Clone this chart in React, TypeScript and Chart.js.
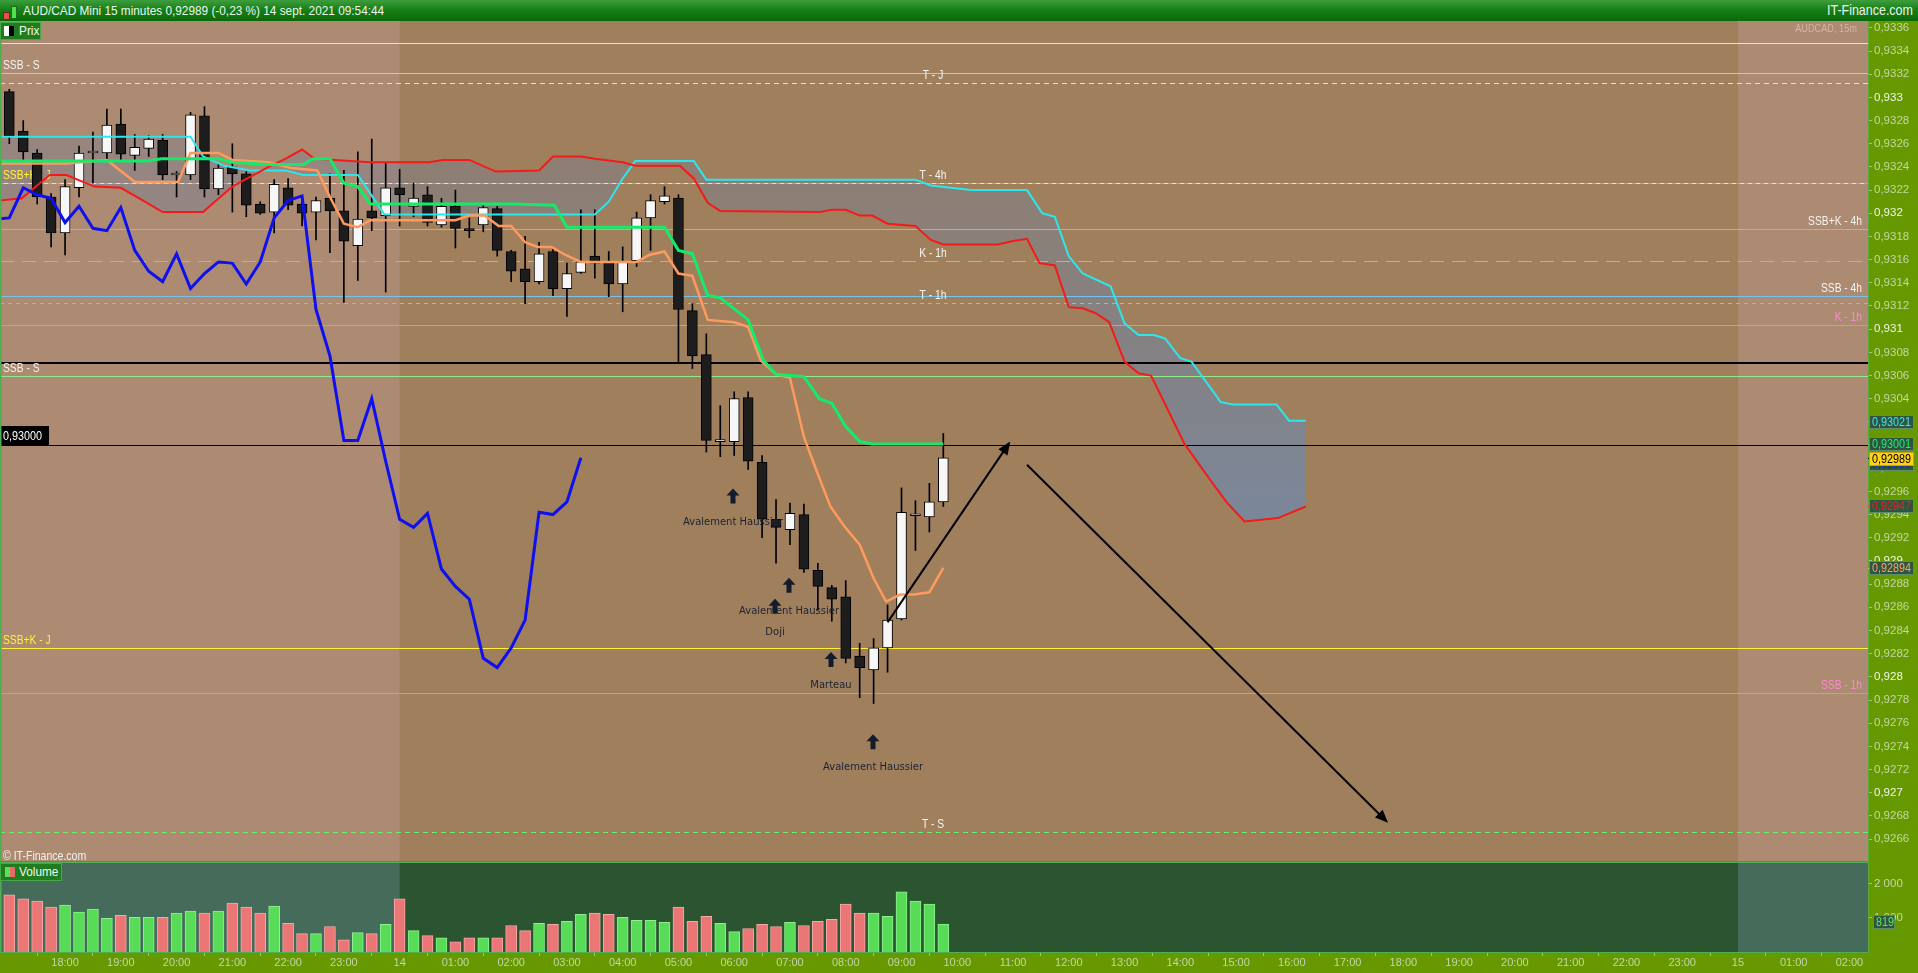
import React, { useEffect, useRef } from 'react';
import { Chart, registerables } from 'chart.js';

Chart.register(...registerables);

const SANS = "'Liberation Sans', Arial, sans-serif";
const SIGN_FONT = "'DejaVu Sans', sans-serif";
const NARROW_SCALE = 0.8;

// ---------------- DATA ----------------
// 15-minute candles, index 0 = 13 sept 17:00, last = 14 sept 09:45
const opens = [0.93305, 0.93271, 0.93252, 0.93214, 0.93183, 0.93222, 0.93252, 0.93252, 0.93277, 0.93250,
  0.93256, 0.93263, 0.93233, 0.93233, 0.93284, 0.93221, 0.93240, 0.93234, 0.93208, 0.93201,
  0.93222, 0.93208, 0.93201, 0.93213, 0.93202, 0.93172, 0.93202, 0.93198, 0.93222, 0.93206,
  0.93216, 0.93190, 0.93206, 0.93186, 0.93190, 0.93204, 0.93167, 0.93152, 0.93141, 0.93167,
  0.93135, 0.93149, 0.93163, 0.93158, 0.93139, 0.93159, 0.93196, 0.93210, 0.93213, 0.93116,
  0.93078, 0.93003, 0.93003, 0.93041, 0.92985, 0.92936, 0.92927, 0.92940, 0.92892, 0.92877,
  0.92869, 0.92818, 0.92806, 0.92825, 0.92850, 0.92939, 0.92938, 0.92951];
const highs = [0.93307, 0.93280, 0.93255, 0.93217, 0.93229, 0.93258, 0.93270, 0.93290, 0.93290, 0.93268,
  0.93267, 0.93268, 0.93236, 0.93287, 0.93292, 0.93243, 0.93260, 0.93236, 0.93210, 0.93229,
  0.93230, 0.93215, 0.93214, 0.93234, 0.93237, 0.93253, 0.93264, 0.93243, 0.93238, 0.93226,
  0.93223, 0.93213, 0.93220, 0.93196, 0.93208, 0.93206, 0.93168, 0.93180, 0.93175, 0.93169,
  0.93157, 0.93203, 0.93203, 0.93167, 0.93171, 0.93201, 0.93216, 0.93223, 0.93216, 0.93122,
  0.93096, 0.93034, 0.93046, 0.93046, 0.92991, 0.92953, 0.92950, 0.92949, 0.92898, 0.92879,
  0.92883, 0.92829, 0.92833, 0.92862, 0.92963, 0.92952, 0.92967, 0.93010];
const lows = [0.93260, 0.93246, 0.93208, 0.93171, 0.93164, 0.93214, 0.93226, 0.93246, 0.93246, 0.93237,
  0.93249, 0.93229, 0.93214, 0.93229, 0.93214, 0.93216, 0.93201, 0.93197, 0.93199, 0.93183,
  0.93203, 0.93189, 0.93177, 0.93166, 0.93123, 0.93142, 0.93185, 0.93132, 0.93189, 0.93197,
  0.93189, 0.93188, 0.93170, 0.93179, 0.93184, 0.93163, 0.93141, 0.93122, 0.93139, 0.93129,
  0.93111, 0.93148, 0.93144, 0.93128, 0.93115, 0.93154, 0.93168, 0.93208, 0.93072, 0.93066,
  0.92994, 0.92990, 0.92991, 0.92979, 0.92920, 0.92898, 0.92914, 0.92890, 0.92858, 0.92848,
  0.92812, 0.92782, 0.92777, 0.92804, 0.92849, 0.92909, 0.92925, 0.92947];
const closes = [0.93267, 0.93253, 0.93214, 0.93183, 0.93223, 0.93252, 0.93253, 0.93276, 0.93251, 0.93257,
  0.93264, 0.93233, 0.93234, 0.93285, 0.93221, 0.93239, 0.93234, 0.93207, 0.93200, 0.93225,
  0.93207, 0.93200, 0.93211, 0.93202, 0.93176, 0.93195, 0.93196, 0.93222, 0.93216, 0.93213,
  0.93192, 0.93206, 0.93187, 0.93185, 0.93205, 0.93168, 0.93150, 0.93141, 0.93165, 0.93135,
  0.93148, 0.93158, 0.93157, 0.93139, 0.93158, 0.93196, 0.93211, 0.93215, 0.93117, 0.93077,
  0.93004, 0.93004, 0.93040, 0.92986, 0.92936, 0.92929, 0.92941, 0.92893, 0.92878, 0.92867,
  0.92816, 0.92808, 0.92825, 0.92849, 0.92942, 0.92940, 0.92951, 0.92989];
const volumes = [1677, 1557, 1497, 1317, 1377, 1168, 1257, 988, 1078, 1018,
  1018, 1018, 1138, 1198, 1138, 1198, 1437, 1317, 1138, 1347,
  838, 539, 539, 748, 359, 569, 539, 808, 1557, 629,
  479, 419, 300, 419, 419, 419, 778, 629, 838, 808,
  898, 1108, 1138, 1108, 1018, 928, 928, 868, 1317, 898,
  1048, 838, 599, 689, 808, 748, 868, 778, 898, 958,
  1407, 1138, 1138, 1048, 1767, 1497, 1407, 819];

// Ichimoku lines: [candle index, price]
const tenkan = [[-0.7, 0.93243], [4.1, 0.93243], [7.0, 0.93246], [9.0, 0.93227], [12.1, 0.93227], [13.0, 0.93252],
  [15.0, 0.93252], [16.0, 0.93246], [18.6, 0.93244], [20.2, 0.93239], [22.1, 0.93237], [23.0, 0.93214],
  [24.0, 0.93191], [25.0, 0.93188], [25.9, 0.93194], [32.0, 0.93194], [33.0, 0.93198], [34.1, 0.93198],
  [35.1, 0.93189], [36.0, 0.93189], [37.0, 0.93175], [37.9, 0.93171], [38.9, 0.93171], [39.9, 0.93164],
  [41.0, 0.93158], [45.0, 0.93158], [45.9, 0.93164], [47.0, 0.93167], [48.0, 0.93148], [49.0, 0.93146],
  [50.1, 0.93108], [52.0, 0.93106], [53.0, 0.93102], [53.9, 0.93073], [55.0, 0.93061], [56.0, 0.93058],
  [57.0, 0.93007], [57.9, 0.92978], [58.9, 0.92947], [59.9, 0.92930], [61.0, 0.92914], [62.0, 0.92885],
  [62.9, 0.92865], [63.9, 0.92871], [64.9, 0.92871], [66.0, 0.92873], [67.0, 0.92894]];
const kijun = [[-0.7, 0.93245], [9.9, 0.93245], [10.9, 0.93247], [15.0, 0.93247], [16.0, 0.93244], [18.6, 0.93242],
  [21.1, 0.93242], [21.8, 0.93247], [23.0, 0.93247], [24.0, 0.93226], [25.0, 0.93223], [25.9, 0.93208],
  [36.2, 0.93208], [39.1, 0.93207], [40.0, 0.93188], [47.0, 0.93188], [48.0, 0.93168], [49.0, 0.93165],
  [50.1, 0.93129], [51.0, 0.93127], [53.0, 0.93108], [54.1, 0.93073], [55.0, 0.93061], [57.0, 0.93059],
  [58.1, 0.93040], [59.0, 0.93036], [60.0, 0.93016], [61.0, 0.93003], [61.9, 0.93001], [67.0, 0.93001]];
const senkouA = [[-0.7, 0.93266], [13.0, 0.93266], [13.9, 0.93249], [15.4, 0.93241], [17.3, 0.93237], [19.8, 0.93237],
  [21.1, 0.93233], [25.0, 0.93233], [25.9, 0.93217], [26.9, 0.93199], [42.0, 0.93199], [43.0, 0.93210],
  [44.0, 0.93230], [44.9, 0.93245], [49.1, 0.93245], [50.0, 0.93229], [65.0, 0.93229], [66.1, 0.93224],
  [69.0, 0.93220], [73.0, 0.93220], [74.1, 0.93200], [75.0, 0.93197], [76.0, 0.93163], [77.0, 0.93148],
  [79.0, 0.93137], [80.0, 0.93105], [81.0, 0.93095], [82.1, 0.93095], [82.9, 0.93092], [84.0, 0.93075],
  [84.8, 0.93072], [86.9, 0.93037], [87.8, 0.93035], [90.9, 0.93035], [91.8, 0.93021], [93.0, 0.93021]];
const senkouB = [[-0.7, 0.93211], [0.9, 0.93213], [2.9, 0.93233], [4.1, 0.93233], [6.1, 0.93223], [8.0, 0.93222],
  [9.6, 0.93211], [11.0, 0.93201], [13.9, 0.93201], [16.0, 0.93223], [18.6, 0.93240], [19.8, 0.93247],
  [21.0, 0.93255], [21.9, 0.93247], [25.9, 0.93244], [30.1, 0.93244], [31.1, 0.93246], [33.0, 0.93246],
  [34.9, 0.93236], [38.0, 0.93237], [39.0, 0.93249], [41.0, 0.93249], [42.0, 0.93247], [44.0, 0.93244],
  [44.9, 0.93241], [48.1, 0.93241], [49.1, 0.93230], [50.1, 0.93209], [51.0, 0.93202], [58.1, 0.93201],
  [59.0, 0.93203], [60.0, 0.93203], [61.0, 0.93198], [61.9, 0.93198], [63.0, 0.93191], [65.0, 0.93189],
  [66.1, 0.93177], [67.0, 0.93173], [70.9, 0.93173], [72.0, 0.93176], [73.0, 0.93178], [73.9, 0.93157],
  [75.0, 0.93155], [76.0, 0.93119], [77.0, 0.93118], [77.9, 0.93114], [78.9, 0.93106], [80.0, 0.93072],
  [81.0, 0.93062], [81.9, 0.93060], [83.0, 0.93033], [84.3, 0.93001], [86.2, 0.92969], [87.3, 0.92951],
  [88.6, 0.92934], [91.0, 0.92937], [93.0, 0.92947]];
const CHIKOU_SHIFT = 26;

// Axis ticks
const priceTicks = [0.9266, 0.9268, 0.9270, 0.9272, 0.9274, 0.9276, 0.9278, 0.9280, 0.9282, 0.9284, 0.9286,
  0.9288, 0.9290, 0.9292, 0.9294, 0.9296, 0.9298, 0.9300, 0.9302, 0.9304, 0.9306, 0.9308, 0.9310,
  0.9312, 0.9314, 0.9316, 0.9318, 0.9320, 0.9322, 0.9324, 0.9326, 0.9328, 0.9330, 0.9332, 0.9334, 0.9336];
const volumeTicks = [1000, 2000];
const timeLabels = ['18:00', '19:00', '20:00', '21:00', '22:00', '23:00', '14', '01:00', '02:00', '03:00', '04:00',
  '05:00', '06:00', '07:00', '08:00', '09:00', '10:00', '11:00', '12:00', '13:00', '14:00', '15:00', '16:00',
  '17:00', '18:00', '19:00', '20:00', '21:00', '22:00', '23:00', '15', '01:00', '02:00'];

// Horizontal levels
const levelValues = [0.93347, 0.93321, 0.93312, 0.93226, 0.93226, 0.93186, 0.93159, 0.93129, 0.93123, 0.93104,
  0.93071, 0.93060, 0.93000, 0.92825, 0.92786, 0.92666];
const levelNames = ['', 'SSB - S', 'T - J', 'SSB+K - J', 'T - 4h', 'SSB+K - 4h', 'K - 1h', 'SSB - 4h', 'T - 1h', 'K - 1h',
  '', 'SSB - S', '0,93000', 'SSB+K - J', 'SSB - 1h', 'T - S'];

// Pattern annotations
const signalIndex = [52, 55, 56, 59, 62];
const signalPrice = [0.92956, 0.92861, 0.92879, 0.92815, 0.92744];
const signalText = ['Avalement Haussier', 'Doji', 'Avalement Haussier', 'Marteau', 'Avalement Haussier'];

// Trend arrows
const trendStartIdx = [63, 73];
const trendStartPrice = [0.92847, 0.92983];
const trendEndIdx = [71.8, 98.9];
const trendEndPrice = [0.93003, 0.92674];

// ---------------- LAYOUT / STYLE ----------------
const X_MIN = -0.667;
const X_MAX = 133.33;
const Y_MIN = 0.926411;
const Y_MAX = 0.933659;
const VOL_MAX = 2640;
const DAY_BREAKS = [28, 124];
const LEVEL_LABEL_IDX = 66.26;

const PRICE_LIGHT = '#AD8A72';
const PRICE_DARK = '#A07F5D';
const VOL_LIGHT = '#456B5B';
const VOL_DARK = '#2B5530';
const AXIS_TEXT = '#C4D6A6';
const AXIS_TEXT_MAJOR = '#F2F5EA';

const levelStyles = [
  { color: '#FFF33C', width: 1, dash: [], pos: 'none', text: '' },
  { color: '#92EA8E', width: 1, dash: [], pos: 'left', text: '#F4F4F0' },
  { color: '#FFF03A', width: 1, dash: [5, 4], pos: 'center', text: '#F4F4F0' },
  { color: '#FFF03A', width: 1, dash: [], pos: 'left', text: '#FFF03A' },
  { color: '#3CD8F2', width: 1, dash: [4, 4], pos: 'center', text: '#F4F4F0' },
  { color: '#76C2EA', width: 1, dash: [], pos: 'right', text: '#F4F4F0' },
  { color: '#F48AC8', width: 1, dash: [14, 8], pos: 'center', text: '#F4F4F0' },
  { color: '#76C2EA', width: 1, dash: [], pos: 'right', text: '#F4F4F0' },
  { color: '#F48AC8', width: 1, dash: [4, 4], pos: 'center', text: '#F4F4F0' },
  { color: '#F57EC0', width: 1, dash: [], pos: 'right', text: '#F78CCB' },
  { color: '#000000', width: 2, dash: [], pos: 'none', text: '' },
  { color: '#92EA8E', width: 1, dash: [], pos: 'left', text: '#F4F4F0' },
  { color: '#000000', width: 1, dash: [], pos: 'box', text: '#FFFFFF' },
  { color: '#FFF03A', width: 1, dash: [], pos: 'left', text: '#FFF03A' },
  { color: '#F57EC0', width: 1, dash: [], pos: 'right', text: '#F78CCB' },
  { color: '#6CEF6C', width: 1, dash: [5, 4], pos: 'center', text: '#F4F4F0' },
];

const fmtPrice = (v: number) => {
  const s = Number(v).toFixed(4).replace(/0+$/, '').replace(/\.$/, '');
  return s.replace('.', ',');
};
const fmt5 = (v: number) => v.toFixed(5).replace('.', ',');
const fmtVol = (v: number) => String(Math.round(v)).replace(/\B(?=(\d{3})+(?!\d))/g, ' ');
const isMajor = (v: number) => Math.abs(v * 1000 - Math.round(v * 1000)) < 1e-6;
const pts = (arr: number[][]) => arr.map(([x, y]) => ({ x, y }));

const chikou = closes.map((c, k) => ({ x: k - CHIKOU_SHIFT, y: c })).filter((p) => p.x >= -1);
const lastOf = (arr: number[][]) => arr[arr.length - 1][1];

// draws text with a condensed look (narrow font imitation)
function narrowText(ctx: any, text: string, x: number, y: number, size: number, color: string, align: string, baseline: string, sx = NARROW_SCALE) {
  ctx.save();
  ctx.translate(x, y);
  ctx.scale(sx, 1);
  ctx.font = `${size}px ${SANS}`;
  ctx.fillStyle = color;
  ctx.textAlign = align;
  ctx.textBaseline = baseline;
  ctx.fillText(text, 0, 0);
  ctx.restore();
}

const cloudFill = (ctx: any) => {
  const chart = ctx.chart;
  const area = chart.chartArea;
  if (!area) return 'rgba(110,135,170,0.5)';
  const g = chart.ctx.createLinearGradient(0, area.top + 120, 0, area.top + 500);
  g.addColorStop(0, 'rgba(112,124,150,0.35)');
  g.addColorStop(1, 'rgba(98,140,192,0.62)');
  return g;
};

function paintPanels(chart: any, light: string, dark: string) {
  const { ctx, chartArea: a, scales } = chart;
  const x = scales.x;
  ctx.save();
  ctx.fillStyle = dark;
  ctx.fillRect(a.left, a.top, a.right - a.left, a.bottom - a.top);
  const xd = x.getPixelForValue(DAY_BREAKS[0]);
  const xe = x.getPixelForValue(DAY_BREAKS[1]);
  ctx.fillStyle = light;
  ctx.fillRect(a.left, a.top, xd - a.left, a.bottom - a.top);
  ctx.fillRect(xe, a.top, a.right - xe, a.bottom - a.top);
  ctx.restore();
}

const pricePlugin = {
  id: 'pricePanel',
  beforeDraw(chart: any) {
    paintPanels(chart, PRICE_LIGHT, PRICE_DARK);
  },
  beforeDatasetsDraw(chart: any) {
    const { ctx, chartArea: a, scales } = chart;
    const x = scales.x, y = scales.y;
    ctx.save();
    ctx.beginPath();
    ctx.rect(a.left, a.top, a.right - a.left, a.bottom - a.top);
    ctx.clip();
    levelValues.forEach((v, k) => {
      const st = levelStyles[k];
      const py = Math.round(y.getPixelForValue(v)) + (st.width % 2 ? 0.5 : 0);
      ctx.strokeStyle = st.color;
      ctx.lineWidth = st.width;
      ctx.setLineDash(st.dash);
      ctx.beginPath();
      ctx.moveTo(a.left, py);
      ctx.lineTo(a.right, py);
      ctx.stroke();
    });
    ctx.setLineDash([]);
    levelValues.forEach((v, k) => {
      const st = levelStyles[k];
      const name = levelNames[k];
      if (!name || st.pos === 'none') return;
      const py = Math.round(y.getPixelForValue(v));
      if (st.pos === 'box') {
        ctx.fillStyle = '#000';
        ctx.fillRect(a.left + 1, py - 19, 48, 19);
        narrowText(ctx, name, a.left + 3, py - 9, 13.5, st.text, 'left', 'middle');
        return;
      }
      const sz = 13.5, sx = 0.76;
      if (st.pos === 'left') narrowText(ctx, name, a.left + 3, py - 1, sz, st.text, 'left', 'bottom', sx);
      else if (st.pos === 'center') narrowText(ctx, name, x.getPixelForValue(LEVEL_LABEL_IDX), py - 1, sz, st.text, 'center', 'bottom', sx);
      else narrowText(ctx, name, a.right - 6, py - 1, sz, st.text, 'right', 'bottom', sx);
    });
    ctx.restore();
  },
  afterDatasetsDraw(chart: any) {
    const { ctx, chartArea: a, scales } = chart;
    const x = scales.x, y = scales.y;
    ctx.save();
    ctx.beginPath();
    ctx.rect(a.left, a.top, a.right - a.left, a.bottom - a.top);
    ctx.clip();
    signalIndex.forEach((si, k) => {
      const cx = Math.round(x.getPixelForValue(si)) - 1;
      const cy = y.getPixelForValue(signalPrice[k]);
      const top = cy - 7.5;
      ctx.fillStyle = '#141B2B';
      ctx.beginPath();
      ctx.moveTo(cx, top);
      ctx.lineTo(cx + 6.5, top + 7);
      ctx.lineTo(cx + 2.5, top + 7);
      ctx.lineTo(cx + 2.5, top + 15);
      ctx.lineTo(cx - 2.5, top + 15);
      ctx.lineTo(cx - 2.5, top + 7);
      ctx.lineTo(cx - 6.5, top + 7);
      ctx.closePath();
      ctx.fill();
      ctx.font = `10px ${SIGN_FONT}`;
      ctx.textAlign = 'center';
      ctx.textBaseline = 'middle';
      ctx.fillStyle = '#1B2335';
      ctx.fillText(signalText[k], cx, cy + 26);
    });
    trendStartIdx.forEach((sx, k) => {
      const x0 = x.getPixelForValue(sx), y0 = y.getPixelForValue(trendStartPrice[k]);
      const x1 = x.getPixelForValue(trendEndIdx[k]), y1 = y.getPixelForValue(trendEndPrice[k]);
      const dx = x1 - x0, dy = y1 - y0;
      const len = Math.hypot(dx, dy);
      const ux = dx / len, uy = dy / len;
      const head = 13, half = 5.5;
      ctx.strokeStyle = '#000';
      ctx.lineWidth = 2;
      ctx.beginPath();
      ctx.moveTo(x0, y0);
      ctx.lineTo(x1 - ux * head * 0.8, y1 - uy * head * 0.8);
      ctx.stroke();
      ctx.fillStyle = '#000';
      ctx.beginPath();
      ctx.moveTo(x1, y1);
      ctx.lineTo(x1 - ux * head - uy * half, y1 - uy * head + ux * half);
      ctx.lineTo(x1 - ux * head + uy * half, y1 - uy * head - ux * half);
      ctx.closePath();
      ctx.fill();
    });
    ctx.restore();
  },
  afterDraw(chart: any) {
    const { ctx, chartArea: a, scales } = chart;
    const y = scales.y;
    ctx.save();
    ctx.fillStyle = '#4FAE4F';
    ctx.fillRect(0, 0, 1.5, a.bottom);
    narrowText(ctx, 'AUDCAD, 15m', a.right - 11, 7.5, 11.5, '#D8B4A2', 'right', 'middle');
    narrowText(ctx, '\u00A9 IT-Finance.com', a.left + 3, a.bottom - 5, 13.5, '#F4F1EC', 'left', 'middle', 0.78);
    // axis value boxes
    const boxValues = [lastOf(senkouA), lastOf(kijun), closes[closes.length - 1], closes[closes.length - 1], lastOf(senkouB), lastOf(tenkan)];
    const boxText = ['#3AE8EE', '#1EEB72', '#1A1AF5', '#000000', '#FF1A1A', '#FF9F66'];
    const boxBg = ['#2D5540', '#2D5540', '#2D5540', '#FFD21A', '#2D5540', '#2D5540'];
    const boxBorder = ['#5E8E66', '#5E8E66', '#5E8E66', '#C9A400', '#5E8E66', '#5E8E66'];
    const boxDy = [0, -1, 5, 0, -1, -1];
    boxValues.forEach((v, k) => {
      const vy = Math.round(y.getPixelForValue(v)) + 0.5;
      const cy = Math.round(vy + boxDy[k]);
      ctx.strokeStyle = k === 3 ? '#000' : boxText[k];
      ctx.lineWidth = 1;
      ctx.beginPath();
      ctx.moveTo(a.right, vy);
      ctx.lineTo(a.right + 4, vy);
      ctx.stroke();
      ctx.fillStyle = boxBg[k];
      ctx.fillRect(a.right + 1, cy - 7, 45, 14);
      ctx.strokeStyle = boxBorder[k];
      ctx.strokeRect(a.right + 1.5, cy - 6.5, 44, 13);
      narrowText(ctx, fmt5(v), a.right + 4, cy + 0.5, 13.5, boxText[k], 'left', 'middle', 0.8);
    });
    ctx.restore();
  },
};

const volumePlugin = {
  id: 'volumePanel',
  beforeDraw(chart: any) {
    paintPanels(chart, VOL_LIGHT, VOL_DARK);
  },
  afterDraw(chart: any) {
    const { ctx, chartArea: a, scales } = chart;
    const y = scales.y;
    ctx.save();
    ctx.fillStyle = '#55B055';
    ctx.fillRect(0, 0, a.right, 1);
    ctx.fillStyle = '#4FAE4F';
    ctx.fillRect(0, 0, 1.5, a.bottom);
    const v = volumes[volumes.length - 1];
    const cy = Math.round(y.getPixelForValue(v) - 2);
    ctx.fillStyle = '#2D5540';
    ctx.fillRect(a.right + 5, cy - 7, 22, 14);
    ctx.strokeStyle = '#5E8E66';
    ctx.strokeRect(a.right + 5.5, cy - 6.5, 21, 13);
    narrowText(ctx, String(v), a.right + 8, cy + 0.5, 13.5, '#5CE65C', 'left', 'middle');
    ctx.restore();
  },
};

function priceConfig(): any {
  return {
    type: 'bar',
    data: {
      datasets: [
        {
          type: 'bar', label: 'wick',
          data: opens.map((_, i) => ({ x: i, y: [lows[i], highs[i]] })),
          backgroundColor: '#000000', barThickness: 1, grouped: false, order: 6,
        },
        {
          type: 'bar', label: 'body',
          data: opens.map((o, i) => ({ x: i, y: [o, closes[i]] })),
          backgroundColor: opens.map((o, i) => (closes[i] >= o ? '#F7F7F7' : '#1D1D1D')),
          borderColor: '#000000', borderWidth: 1, borderSkipped: false,
          barThickness: 10, minBarLength: 2, grouped: false, order: 5,
        },
        {
          type: 'line', label: 'SSA', data: pts(senkouA),
          borderColor: '#2CE6EC', borderWidth: 2, pointRadius: 0, tension: 0, fill: false, order: 4,
        },
        {
          type: 'line', label: 'SSB', data: pts(senkouB),
          borderColor: '#F51A1A', borderWidth: 2, pointRadius: 0, tension: 0,
          fill: 2, backgroundColor: cloudFill, order: 3,
        },
        {
          type: 'line', label: 'Tenkan', data: pts(tenkan),
          borderColor: '#FF9A5E', borderWidth: 2.5, pointRadius: 0, tension: 0, fill: false, order: 2,
        },
        {
          type: 'line', label: 'Kijun', data: pts(kijun),
          borderColor: '#12EC6A', borderWidth: 3, pointRadius: 0, tension: 0, fill: false, order: 1,
        },
        {
          type: 'line', label: 'Chikou', data: chikou,
          borderColor: '#0E10F0', borderWidth: 3, pointRadius: 0, tension: 0, fill: false, order: 0,
        },
      ],
    },
    options: {
      animation: false, responsive: false, maintainAspectRatio: false, devicePixelRatio: 1,
      events: [],
      layout: { padding: { left: 0, right: 0, top: 0, bottom: 1 } },
      plugins: { legend: { display: false }, tooltip: { enabled: false }, filler: { drawTime: 'beforeDatasetsDraw' } },
      scales: {
        x: { type: 'linear', min: X_MIN, max: X_MAX, offset: false, display: false, grid: { display: false } },
        y: {
          type: 'linear', position: 'right', min: Y_MIN, max: Y_MAX,
          afterBuildTicks: (s: any) => { s.ticks = priceTicks.map((v) => ({ value: v })); },
          afterFit: (s: any) => { s.width = 50; s.paddingTop = 0; s.paddingBottom = 0; },
          ticks: {
            autoSkip: false, padding: 2,
            callback: (v: any) => fmtPrice(v),
            color: (c: any) => (c.tick && isMajor(c.tick.value) ? AXIS_TEXT_MAJOR : AXIS_TEXT),
            font: { family: SANS, size: 11.5 },
          },
          grid: { drawOnChartArea: false, tickLength: 4, color: '#A6C57A' },
          border: { display: true, color: '#58A83A', width: 1 },
        },
      },
    },
    plugins: [pricePlugin],
  };
}

function volumeConfig(): any {
  return {
    type: 'bar',
    data: {
      datasets: [
        {
          label: 'Volume',
          data: volumes.map((v, i) => ({ x: i, y: v })),
          backgroundColor: opens.map((o, i) => (closes[i] >= o ? '#58DC58' : '#EA7676')),
          borderColor: opens.map((o, i) => (closes[i] >= o ? '#8EF08E' : '#F7A8A8')),
          borderWidth: 1, borderSkipped: 'bottom', barThickness: 11, grouped: false,
        },
      ],
    },
    options: {
      animation: false, responsive: false, maintainAspectRatio: false, devicePixelRatio: 1,
      events: [],
      layout: { padding: 0 },
      plugins: { legend: { display: false }, tooltip: { enabled: false } },
      scales: {
        x: {
          type: 'linear', min: X_MIN, max: X_MAX, offset: false,
          afterBuildTicks: (s: any) => { s.ticks = timeLabels.map((_, k) => ({ value: 4 + 4 * k })); },
          afterFit: (s: any) => { s.height = 21; s.paddingLeft = 0; s.paddingRight = 0; },
          ticks: {
            autoSkip: false, maxRotation: 0, padding: 0,
            callback: (_v: any, idx: number) => timeLabels[idx],
            color: AXIS_TEXT, font: { family: SANS, size: 11 },
          },
          grid: { drawOnChartArea: false, tickLength: 4, color: '#9FC46F' },
          border: { display: true, color: '#4FAE4F', width: 1 },
        },
        y: {
          type: 'linear', position: 'right', min: 0, max: VOL_MAX,
          afterBuildTicks: (s: any) => { s.ticks = volumeTicks.map((v) => ({ value: v })); },
          afterFit: (s: any) => { s.width = 50; s.paddingTop = 0; s.paddingBottom = 0; },
          ticks: {
            autoSkip: false, padding: 2,
            callback: (v: any) => fmtVol(v),
            color: AXIS_TEXT, font: { family: SANS, size: 11.5 },
          },
          grid: { drawOnChartArea: false, tickLength: 4, color: '#A6C57A' },
          border: { display: true, color: '#58A83A', width: 1 },
        },
      },
    },
    plugins: [volumePlugin],
  };
}

const narrowSpan = (extra: any, sx = 0.875) => ({
  position: 'absolute', top: 0, transform: `scaleX(${sx})`, ...extra,
});

export default function App() {
  const priceRef = useRef<HTMLCanvasElement>(null);
  const volRef = useRef<HTMLCanvasElement>(null);

  useEffect(() => {
    const c1 = new Chart(priceRef.current as HTMLCanvasElement, priceConfig());
    const c2 = new Chart(volRef.current as HTMLCanvasElement, volumeConfig());
    return () => {
      c1.destroy();
      c2.destroy();
    };
  }, []);

  return (
    <div style={{ position: 'fixed', left: 0, top: 0, width: 1918, height: 973, background: '#669900', overflow: 'hidden', fontFamily: SANS }}>
      <div style={{
        position: 'absolute', left: 0, top: 0, width: 1918, height: 21,
        background: 'linear-gradient(to bottom, #3E9E3E 0%, #178017 45%, #0A690A 100%)',
        color: '#EEF5EE', fontSize: 13.5, lineHeight: '21px', whiteSpace: 'nowrap',
      }}>
        <span style={{ position: 'absolute', left: 3, top: 12, width: 5, height: 6, background: '#E85050', border: '1px solid #7A2020' }} />
        <span style={{ position: 'absolute', left: 11, top: 6, width: 4, height: 11, background: '#50E050', border: '1px solid #206A20' }} />
        <span style={narrowSpan({ left: 23, transformOrigin: 'left center' }) as any}>AUD/CAD Mini 15 minutes 0,92989 (-0,23 %) 14 sept. 2021 09:54:44</span>
        <span style={narrowSpan({ right: 5, fontSize: 14.5, transformOrigin: 'right center' }, 0.86) as any}>IT-Finance.com</span>
      </div>
      <canvas ref={priceRef} width={1918} height={841} style={{ position: 'absolute', left: 0, top: 21, width: 1918, height: 841, display: 'block' }} />
      <canvas ref={volRef} width={1918} height={111} style={{ position: 'absolute', left: 0, top: 862, width: 1918, height: 111, display: 'block' }} />
      <div style={{
        position: 'absolute', left: 0, top: 22, width: 41, height: 18, background: '#1F7D1F',
        border: '1px solid #46A846', color: '#F2F7F2', fontSize: 13.5, lineHeight: '16px', boxSizing: 'border-box',
      }}>
        <span style={{ position: 'absolute', left: 3, top: 3, width: 5, height: 10, background: '#FFFFFF' }} />
        <span style={{ position: 'absolute', left: 8, top: 3, width: 5, height: 10, background: '#000000' }} />
        <span style={narrowSpan({ left: 18, transformOrigin: 'left center' }) as any}>Prix</span>
      </div>
      <div style={{
        position: 'absolute', left: 0, top: 863, width: 62, height: 18, background: '#1F7D1F',
        border: '1px solid #46A846', color: '#F2F7F2', fontSize: 13.5, lineHeight: '16px', boxSizing: 'border-box',
      }}>
        <span style={{ position: 'absolute', left: 4, top: 3, width: 5, height: 10, background: '#5CE05C' }} />
        <span style={{ position: 'absolute', left: 9, top: 3, width: 5, height: 10, background: '#E86A6A' }} />
        <span style={narrowSpan({ left: 18, transformOrigin: 'left center' }) as any}>Volume</span>
      </div>
    </div>
  );
}
